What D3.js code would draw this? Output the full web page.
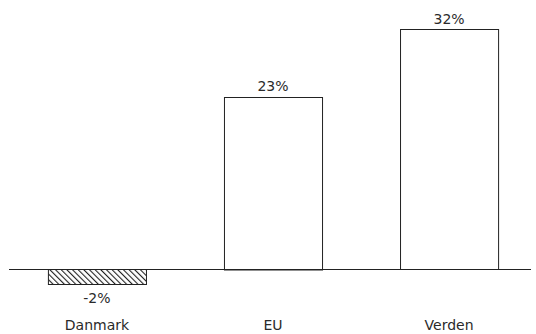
<!DOCTYPE html>
<html>
<head>
<meta charset="utf-8">
<script src="https://cdn.jsdelivr.net/npm/d3@7"></script>
<style>
  body { margin: 0; background: #fff; }
  text { font-family: "DejaVu Sans", Verdana, sans-serif; fill: #2a2a2a; }
</style>
</head>
<body>
<div class="chart"></div>
<script>
// Data
var categories = ["Danmark", "EU", "Verden"];
var values = [-2, 23, 32];
var valueLabels = ["-2%", "23%", "32%"];

var svgWidth = 536;
var svgHeight = 334;

var svg = d3.select(".chart")
  .append("svg")
  .attr("width", svgWidth)
  .attr("height", svgHeight);

// hatch pattern for negative bars
var defs = svg.append("defs");
var pat = defs.append("pattern")
  .attr("id", "hatch")
  .attr("patternUnits", "userSpaceOnUse")
  .attr("width", 4)
  .attr("height", 4)
  .attr("patternTransform", "rotate(-45)");
pat.append("rect").attr("width", 4).attr("height", 4).attr("fill", "#fff");
pat.append("line")
  .attr("x1", 0).attr("y1", 0).attr("x2", 0).attr("y2", 4)
  .attr("stroke", "#222").attr("stroke-width", 2.2);

var x = d3.scaleBand()
  .domain(categories)
  .range([9, 537])
  .paddingInner(0.443)
  .paddingOuter(0.221);

var y = d3.scaleLinear()
  .domain([0, 32])
  .range([269, 29]);

// bars
svg.selectAll(".bar")
  .data(values)
  .enter()
  .append("rect")
  .attr("class", "bar")
  .attr("x", (d, i) => x(categories[i]) + 0.5)
  .attr("y", d => Math.round(y(Math.max(0, d))) + 0.5)
  .attr("width", x.bandwidth())
  .attr("height", d => Math.abs(y(d) - y(0)))
  .attr("fill", d => d < 0 ? "url(#hatch)" : "#fff")
  .attr("stroke", "#222")
  .attr("stroke-width", 1);

// zero line
svg.append("line")
  .attr("x1", 9)
  .attr("x2", 531)
  .attr("y1", y(0) + 0.5)
  .attr("y2", y(0) + 0.5)
  .attr("stroke", "#222")
  .attr("stroke-width", 1);

// value labels
svg.selectAll(".val")
  .data(values)
  .enter()
  .append("text")
  .attr("class", "val")
  .attr("x", (d, i) => x(categories[i]) + x.bandwidth() / 2)
  .attr("y", d => d < 0 ? y(d) + 19 : y(d) - 5.5)
  .attr("text-anchor", "middle")
  .attr("font-size", 14)
  .text((d, i) => valueLabels[i]);

// category labels
svg.selectAll(".cat")
  .data(categories)
  .enter()
  .append("text")
  .attr("class", "cat")
  .attr("x", d => x(d) + x.bandwidth() / 2)
  .attr("y", 330)
  .attr("text-anchor", "middle")
  .attr("font-size", 14)
  .text(d => d);
</script>
</body>
</html>
